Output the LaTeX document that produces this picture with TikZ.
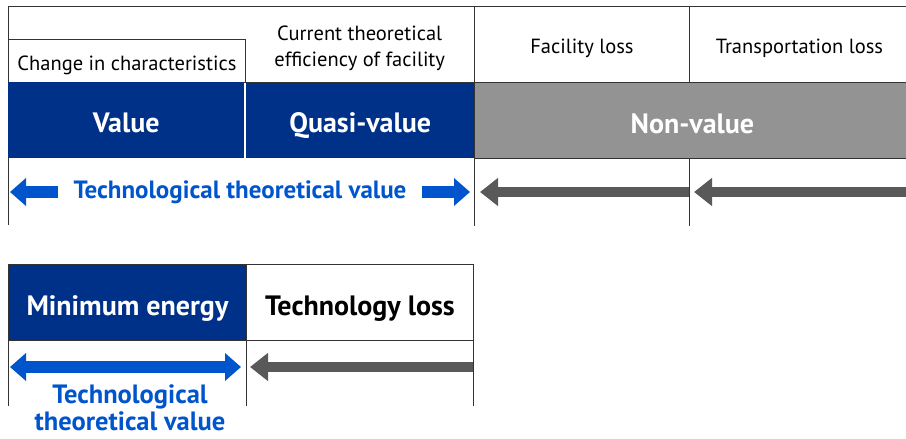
\documentclass[tikz,border=0pt]{standalone}
\usepackage{fontspec}
\setmainfont{PT Sans}
\usetikzlibrary{positioning,arrows.meta,calc}
\definecolor{darkblue}{RGB}{0,49,137}
\definecolor{techblue}{RGB}{0,85,204}
\definecolor{nongray}{RGB}{147,147,147}
\definecolor{arrgray}{RGB}{89,89,89}
\definecolor{rule}{RGB}{51,51,51}
\tikzset{
cell/.style={anchor=north west,inner sep=0pt,align=center,text height=19pt,text depth=0pt,font=\fontsize{20.5}{26}\selectfont},
band/.style={anchor=north west,inner sep=0pt,align=center,text=white,text height=25.6pt,text depth=0pt,font=\fontsize{28}{30}\selectfont\bfseries},
frame/.style={draw=rule,line width=0.9pt},
bluearrow/.style={draw=techblue,line width=12pt,{Triangle[length=16pt,width=27pt]}-{Triangle[length=16pt,width=27pt]}},
blueleft/.style={draw=techblue,line width=12pt,{Triangle[length=16pt,width=27pt]}-},
grayarrow/.style={draw=arrgray,line width=10pt,-{Triangle[length=18pt,width=27pt]}}
}
\begin{document}
\begin{tikzpicture}[x=1pt,y=1pt]
\useasboundingbox (0,0) rectangle (906,439);
% upper chart: header cells
\node[cell,draw=rule,line width=0.9pt,minimum width=237pt,minimum height=43pt](chg) at (8,400){Change in characteristics};
\node[anchor=north west,inner sep=0pt,align=center,font=\fontsize{20.5}{26}\selectfont,minimum width=229pt,minimum height=76pt](cur) at (245,429){Current theoretical\\efficiency of facility};
\node[cell,draw=rule,line width=0.9pt,minimum width=215pt,minimum height=76pt](fac) at (474,433){Facility loss};
\node[cell,draw=rule,line width=0.9pt,minimum width=220pt,minimum height=76pt](trn) at (689,433){Transportation loss};
\draw[frame](chg.north west)--(chg.north west|-fac.north)--(fac.north west);
% upper chart: value bands
\node[band,fill=darkblue,minimum width=236pt,minimum height=76pt](val) at (8,357){Value};
\node[band,fill=darkblue,minimum width=228pt,minimum height=76pt](qval) at (246,357){Quasi-value};
\node[band,fill=nongray,draw=rule,line width=0.9pt,minimum width=436pt,minimum height=76pt](nval) at (474,357){Non-value};
\draw[frame](chg.south east)--(fac.south west);
% upper chart: arrow row
\draw[frame](val.south west)--++(0,-67);
\draw[frame](nval.south west)--++(0,-67);
\draw[frame](trn.south west|-nval.south)--++(0,-67);
\node[text=techblue,font=\fontsize{25}{28}\selectfont\bfseries](ttv) at (240,247){Technological theoretical value};
\coordinate(ttvl) at (10,247);
\coordinate(ttvr) at (470,247);
\coordinate(facr) at (689,247);
\coordinate(facl) at (480,247);
\coordinate(trnr) at (906,247);
\coordinate(trnl) at (694,247);
\draw[blueleft](ttvl)--($(ttv.west)+(-12pt,0)$);
\draw[blueleft](ttvr)--($(ttv.east)+(12pt,0)$);
\draw[grayarrow](facr)--(facl);
\draw[grayarrow](trnr)--(trnl);
% lower chart
\node[band,fill=darkblue,draw=rule,line width=0.9pt,minimum width=238pt,minimum height=76pt](mine) at (8,175){Minimum energy};
\node[band,text=black,draw=rule,line width=0.9pt,minimum width=227pt,minimum height=76pt](tloss) at (246,175){Technology loss};
\draw[frame](mine.south west)--++(0,-65);
\draw[frame](tloss.south west)--++(0,-65);
\draw[frame](tloss.south east)--++(0,-65);
\coordinate(minl) at (10,72);
\coordinate(minr) at (241,72);
\coordinate(tlr) at (473,72);
\coordinate(tll) at (250,72);
\draw[bluearrow](minl)--(minr);
\draw[grayarrow](tlr)--(tll);
\node[text=techblue,align=center,inner sep=1pt,font=\fontsize{26.5}{27.5}\selectfont\bfseries](ttv2) at (130,31){Technological\\theoretical value};
\end{tikzpicture}
\end{document}
